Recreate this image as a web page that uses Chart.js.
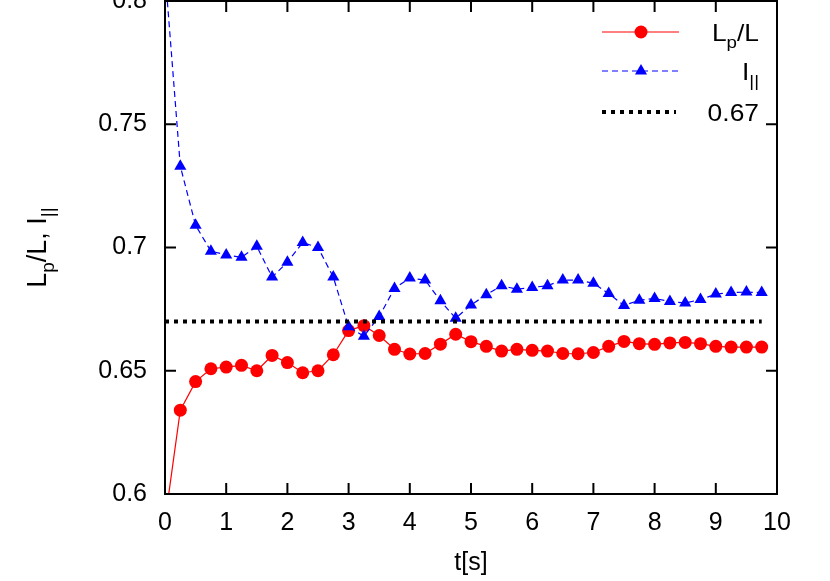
<!DOCTYPE html>
<html>
<head>
<meta charset="utf-8">
<script src="https://cdn.jsdelivr.net/npm/chart.js@4.4.1/dist/chart.umd.min.js"></script>
<style>
  html, body { margin: 0; padding: 0; background: #fff; overflow: hidden; }
  #wrap { position: absolute; left: 0; top: -32px; width: 830px; height: 613px; }
</style>
</head>
<body>
<div id="wrap"><canvas id="chart" width="830" height="613"></canvas></div>
<script>
// time axis (s)
const T = [
  0, 0.25, 0.5, 0.75, 1, 1.25, 1.5, 1.75, 2, 2.25,
  2.5, 2.75, 3, 3.25, 3.5, 3.75, 4, 4.25, 4.5, 4.75,
  5, 5.25, 5.5, 5.75, 6, 6.25, 6.5, 6.75, 7, 7.25,
  7.5, 7.75, 8, 8.25, 8.5, 8.75, 9, 9.25, 9.5, 9.75
];
// Lp/L
const LP_L = [
  0.589, 0.634, 0.6456, 0.6508, 0.6515, 0.6522, 0.650, 0.6562, 0.6533, 0.6492,
  0.650, 0.6565, 0.6663, 0.6683, 0.6643, 0.6587, 0.6568, 0.657, 0.6608, 0.6648,
  0.6618, 0.6599, 0.658, 0.6587, 0.6583, 0.658, 0.657, 0.6569, 0.6574, 0.6599,
  0.6619, 0.661, 0.6607, 0.6613, 0.6615, 0.661, 0.6599, 0.6596, 0.6596, 0.6596
];
// I_||
const I_PAR = [
  0.812, 0.733, 0.709, 0.6985, 0.697, 0.696, 0.7005, 0.688, 0.694, 0.702,
  0.700, 0.688, 0.6678, 0.664, 0.672, 0.6834, 0.6876, 0.6868, 0.6784, 0.6713,
  0.6767, 0.6808, 0.6845, 0.6831, 0.6838, 0.6845, 0.6868, 0.6868, 0.6855, 0.6813,
  0.6765, 0.6786, 0.6793, 0.6781, 0.6775, 0.6789, 0.6811, 0.6817, 0.6819, 0.6817
];
// reference level
const REF_T = [0, 9.75];
const REF_Y = [0.67, 0.67];

const X_TICKS = [0, 1, 2, 3, 4, 5, 6, 7, 8, 9, 10];
const Y_TICKS = [0.6, 0.65, 0.7, 0.75, 0.8];

const FONT = "'Liberation Sans', Arial, sans-serif";
const SHIFT = 32; // canvas is moved up by this much so the top of the frame sits at the window edge
const pts = (xs, ys) => xs.map((x, i) => ({ x, y: ys[i] }));

// draw text with subscript parts: [['L'], ['p', true], ['/L']], sx = horizontal stretch
function drawRich(ctx, parts, x, y, size, align, sx = 1) {
  let w = 0;
  parts.forEach(([s, sub]) => {
    ctx.font = `${sub ? Math.round(size * 0.7) : size}px ${FONT}`;
    w += ctx.measureText(s).width;
  });
  ctx.save();
  ctx.translate(x, y);
  ctx.scale(sx, 1);
  let cx = align === 'right' ? -w : align === 'center' ? -w / 2 : 0;
  ctx.textAlign = 'left';
  ctx.textBaseline = 'alphabetic';
  parts.forEach(([s, sub]) => {
    ctx.font = `${sub ? Math.round(size * 0.7) : size}px ${FONT}`;
    ctx.fillText(s, cx, sub ? size * 0.3 : 0);
    cx += ctx.measureText(s).width;
  });
  ctx.restore();
}

const gnuFrame = {
  id: 'gnuFrame',
  afterDraw(chart) {
    const { ctx, chartArea: a, scales } = chart;
    ctx.save();
    ctx.strokeStyle = '#000';
    ctx.lineWidth = 2;
    ctx.strokeRect(a.left, a.top, a.right - a.left, a.bottom - a.top);
    const tl = 11;
    ctx.beginPath();
    X_TICKS.forEach(v => {
      const px = scales.x.getPixelForValue(v);
      ctx.moveTo(px, a.bottom); ctx.lineTo(px, a.bottom - tl);
      ctx.moveTo(px, a.top); ctx.lineTo(px, a.top + tl);
    });
    Y_TICKS.forEach(v => {
      const py = scales.y.getPixelForValue(v);
      ctx.moveTo(a.left, py); ctx.lineTo(a.left + tl, py);
      ctx.moveTo(a.right, py); ctx.lineTo(a.right - tl, py);
    });
    ctx.stroke();

    // y title
    ctx.fillStyle = '#000';
    ctx.save();
    ctx.translate(46, (a.top + a.bottom) / 2);
    ctx.rotate(-Math.PI / 2);
    drawRich(ctx, [['L'], ['p', true], ['/L, I'], ['||', true]], 0, 0, 27, 'center');
    ctx.restore();

    // legend
    const rows = [
      { ds: chart.data.datasets[0], parts: [['L'], ['p', true], ['/L']], y: SHIFT + 32 },
      { ds: chart.data.datasets[1], parts: [['I'], ['||', true]], y: SHIFT + 71 },
      { ds: chart.data.datasets[2], parts: [['0.67']], y: SHIFT + 112 }
    ];
    rows.forEach((r, i) => {
      const ds = r.ds;
      ctx.save();
      ctx.strokeStyle = ds.borderColor;
      ctx.lineWidth = ds.borderWidth;
      ctx.setLineDash(ds.borderDash || []);
      ctx.beginPath();
      ctx.moveTo(602, r.y);
      ctx.lineTo(i === 2 ? 676 : 679, r.y);
      ctx.stroke();
      ctx.setLineDash([]);
      ctx.fillStyle = ds.pointBackgroundColor;
      if (ds.pointStyle === 'circle' && ds.pointRadius) {
        ctx.beginPath();
        ctx.arc(641, r.y, ds.pointRadius, 0, Math.PI * 2);
        ctx.fill();
      } else if (ds.pointStyle === 'triangle' && ds.pointRadius) {
        const rr = ds.pointRadius;
        ctx.beginPath();
        ctx.moveTo(641, r.y - rr);
        ctx.lineTo(641 + rr * 0.866, r.y + rr / 2);
        ctx.lineTo(641 - rr * 0.866, r.y + rr / 2);
        ctx.closePath();
        ctx.fill();
      }
      ctx.restore();
      ctx.fillStyle = '#000';
      drawRich(ctx, r.parts, 759, r.y + 9, 24, 'right', 1.1);
    });
    ctx.restore();
  }
};

new Chart(document.getElementById('chart'), {
  type: 'line',
  data: {
    datasets: [
      {
        label: 'Lp/L',
        data: pts(T, LP_L),
        borderColor: '#ff0000',
        backgroundColor: '#ff0000',
        pointBackgroundColor: '#ff0000',
        pointBorderWidth: 0,
        borderWidth: 1.2,
        pointStyle: 'circle',
        pointRadius: 6.5,
        tension: 0,
        order: 2
      },
      {
        label: 'I||',
        data: pts(T, I_PAR),
        borderColor: '#0000ff',
        backgroundColor: '#0000ff',
        pointBackgroundColor: '#0000ff',
        pointBorderWidth: 0,
        borderWidth: 1.2,
        borderDash: [6, 4],
        pointStyle: 'triangle',
        pointRadius: 7,
        tension: 0,
        order: 1
      },
      {
        label: '0.67',
        data: pts(REF_T, REF_Y),
        borderColor: '#000',
        pointBackgroundColor: '#000',
        borderWidth: 4,
        borderDash: [4, 5],
        borderCapStyle: 'butt',
        pointRadius: 0,
        tension: 0,
        order: 0
      }
    ]
  },
  options: {
    responsive: false,
    animation: false,
    layout: { padding: { left: 0, right: 53, top: 8, bottom: 0 } },
    plugins: { legend: { display: false }, tooltip: { enabled: false } },
    scales: {
      x: {
        type: 'linear',
        min: 0, max: 10,
        afterFit: s => { s.height = 87; },
        afterBuildTicks: s => { s.ticks = X_TICKS.map(v => ({ value: v })); },
        grid: { display: false, drawTicks: false },
        border: { display: false },
        ticks: { color: '#000', padding: 14, font: { family: FONT, size: 25 }, maxRotation: 0 },
        title: { display: true, text: 't[s]', color: '#000', font: { family: FONT, size: 25 }, padding: { top: 0, bottom: 3 } }
      },
      y: {
        type: 'linear',
        min: 0.6, max: 0.8,
        afterFit: s => { s.width = 165; },
        afterBuildTicks: s => { s.ticks = Y_TICKS.map(v => ({ value: v })); },
        grid: { display: false, drawTicks: false },
        border: { display: false },
        ticks: { color: '#000', padding: 18, font: { family: FONT, size: 25 }, callback: v => String(Number(v.toFixed(2))) }
      }
    }
  },
  plugins: [gnuFrame]
});
</script>
</body>
</html>
